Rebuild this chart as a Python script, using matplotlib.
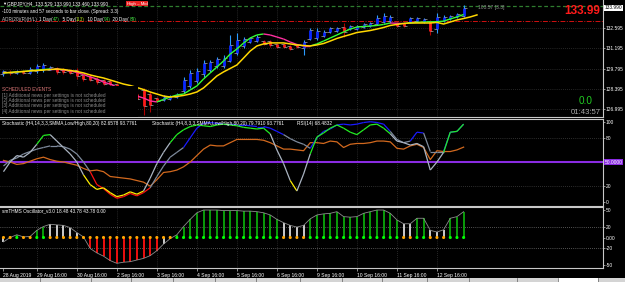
import numpy as np
import matplotlib.pyplot as plt
import matplotlib.transforms as mtransforms
from matplotlib.collections import LineCollection
from matplotlib.patches import Rectangle

plt.rcParams['font.family'] = ['Liberation Sans', 'DejaVu Sans']

# ---- values (GBPJPY H4, 70 bars) ----
bar_open = [129.40, 129.58, 129.46, 129.62, 129.50, 129.60, 129.70, 129.72, 129.82, 129.70,
            129.65, 129.70, 129.35, 129.30, 129.10, 129.00, 128.90, 128.70, 128.50, 128.20,
            128.05, 128.30, 128.00, 127.75, 127.62, 127.68, 127.85, 128.25, 128.60, 128.95,
            129.40, 129.70, 129.95, 130.00, 130.30, 130.90, 131.35, 131.63, 131.70, 131.70,
            131.70, 131.50, 131.48, 131.38, 131.40, 131.20, 131.85, 131.90, 132.05, 132.33,
            132.40, 132.70, 132.55, 132.55, 132.65, 132.75, 132.90, 133.05, 133.10, 132.98,
            132.95, 133.00, 133.08, 133.02, 133.10, 132.50, 133.10, 133.22, 133.35, 133.45]
bar_close = [129.60, 129.46, 129.62, 129.50, 129.78, 129.95, 130.05, 129.88, 129.55, 129.52,
             129.48, 129.25, 129.10, 129.00, 128.85, 128.75, 128.70, 128.50, 128.20, 127.90,
             127.70, 127.20, 127.30, 127.55, 127.82, 127.90, 128.00, 129.00, 129.50, 129.65,
             130.20, 130.25, 130.45, 130.55, 131.40, 131.80, 131.85, 131.90, 132.00, 131.50,
             131.40, 131.30, 131.28, 131.15, 131.26, 131.60, 132.45, 132.40, 132.35, 132.60,
             132.60, 132.35, 132.75, 132.75, 132.90, 132.95, 133.30, 133.45, 133.40, 132.75,
             132.72, 133.30, 133.30, 133.25, 132.40, 133.40, 133.40, 133.45, 133.60, 133.99]
bar_high = [129.72, 129.66, 129.70, 129.68, 129.90, 130.10, 130.20, 129.95, 129.90, 129.80,
            129.75, 129.80, 129.45, 129.40, 129.20, 129.05, 129.00, 128.80, 128.60, 128.30,
            128.20, 128.45, 128.20, 127.85, 127.95, 127.98, 128.10, 129.21, 129.69, 129.83,
            130.39, 130.39, 130.59, 130.73, 132.12, 132.26, 131.98, 131.98, 132.12, 131.77,
            131.77, 131.56, 131.56, 131.43, 131.43, 131.77, 132.60, 132.60, 132.47, 132.67,
            132.67, 132.95, 132.81, 132.81, 132.95, 133.02, 133.50, 133.64, 133.50, 133.02,
            133.02, 133.37, 133.37, 133.30, 133.16, 133.64, 133.50, 133.50, 133.64, 134.20]
bar_low = [129.30, 129.38, 129.40, 129.42, 129.45, 129.50, 129.55, 129.66, 129.45, 129.45,
           129.40, 129.10, 128.95, 128.90, 128.70, 128.65, 128.60, 128.40, 128.10, 127.80,
           127.60, 126.60, 126.80, 127.45, 127.55, 127.60, 127.75, 128.10, 128.45, 128.79,
           129.21, 129.55, 129.83, 129.83, 130.25, 130.73, 131.22, 131.56, 131.63, 131.43,
           131.29, 131.22, 131.22, 131.08, 131.22, 130.73, 131.77, 131.77, 131.98, 132.26,
           132.33, 131.98, 132.47, 132.47, 132.60, 132.67, 132.81, 132.95, 132.95, 132.67,
           132.67, 132.95, 133.02, 132.95, 132.12, 132.26, 133.02, 133.16, 133.30, 133.37]
ma_fast = [129.49, 129.52, 129.56, 129.59, 129.63, 129.69, 129.73, 129.76, 129.76, 129.69,
           129.63, 129.52, 129.38, 129.21, 129.07, 128.85, 128.72, 128.51, 128.31, 128.10,
           127.89, 127.75, 127.55, 127.48, 127.65, 127.82, 127.96, 128.03, 128.31, 128.59,
           129.07, 129.49, 129.90, 130.32, 130.80, 131.15, 131.56, 131.91, 132.12, 132.19,
           132.12, 131.98, 131.84, 131.63, 131.46, 131.36, 131.36, 131.50, 131.70, 131.91,
           132.12, 132.33, 132.53, 132.67, 132.71, 132.74, 132.78, 132.85, 132.95, 132.93,
           132.91, 132.95, 133.00, 133.02, 133.03, 133.04, 133.08, 133.23, 133.37, 133.54]
# slow MA is drawn shifted two bars forward, so it has two extra points
ma_slow = [129.49, 129.52, 129.56, 129.59, 129.63, 129.66, 129.69, 129.73, 129.76, 129.73,
           129.66, 129.59, 129.49, 129.35, 129.24, 129.14, 129.00, 128.86, 128.72, 128.62,
           128.48, 128.34, 128.17, 128.03, 127.89, 127.82, 127.86, 127.93, 128.03, 128.17,
           128.45, 128.86, 129.28, 129.56, 129.80, 130.04, 130.52, 131.01, 131.36, 131.50,
           131.57, 131.57, 131.57, 131.50, 131.43, 131.39, 131.36, 131.43, 131.53, 131.70,
           131.88, 132.02, 132.15, 132.29, 132.36, 132.43, 132.53, 132.64, 132.78, 132.85,
           132.92, 132.95, 132.95, 132.95, 132.95, 132.99, 132.88, 133.02, 133.16, 133.26,
           133.37, 133.51]
stoch_a = [38, 50, 58, 56, 62, 72, 83, 84, 76, 68,
           60, 50, 34, 22, 16, 18, 12, 7, 9, 13,
           10, 14, 30, 48, 62, 74, 84, 90, 94, 96,
           95, 94, 96, 97, 96, 95, 93, 92, 91, 92,
           85, 65, 48, 27, 14, 35, 60, 81, 86, 92,
           96, 92, 87, 84, 90, 96, 97, 92, 85, 76,
           74, 71, 73, 69, 40, 50, 62, 87, 88, 97]
stoch_b = [45, 52, 55, 60, 63, 66, 68, 70, 70, 69,
           66, 60, 50, 38, 22, 17, 10, 5, 7, 11,
           8, 12, 18, 32, 45, 56, 62, 68, 80, 92,
           98, 99, 98, 97, 97, 96, 96, 95, 94, 94,
           92, 88, 84, 79, 75, 72, 67, 80, 88, 91,
           96, 97, 96, 97, 99, 100, 99, 97, 88, 78,
           74, 76, 87, 86, 63, 63, 63, 87, 88, 97]
rsi = [52, 50, 47, 48, 51, 54, 56, 53, 51, 50,
       48, 46, 42, 39, 40, 38, 32, 31, 30, 29,
       27, 25, 20, 28, 37, 38, 40, 44, 50, 58,
       66, 71, 70, 70, 74, 78, 78, 78, 78, 77,
       74, 70, 66, 66, 65, 64, 74, 74, 73, 76,
       75, 68, 72, 73, 73, 74, 76, 76, 75, 67,
       66, 70, 72, 68, 53, 64, 63, 63, 65, 68.48]
osc = [-8, 0, 5, 1, 2, 13, 20, 24, 23, 22,
       18, 9, 1, -20, -28, -34, -42, -47, -45, -44,
       -41, -38, -33, -24, -12, -2, 5, 20, 33, 45,
       50, 50, 50, 49, 49, 49, 48, 48, 47, 45,
       41, 33, 27, 22, 19, 22, 34, 41, 43, 44,
       47, 38, 37, 38, 44, 47, 50, 50, 44, 32,
       25, 25, 35, 35, 13, 10, 14, 35, 38, 47]

time_ticks = [0, 5, 11, 17, 23, 29, 35, 41, 47, 53, 59, 65]
time_labels = ['28 Aug 2019', '29 Aug 16:00', '30 Aug 16:00', '2 Sep 16:00', '3 Sep 16:00',
               '4 Sep 16:00', '5 Sep 16:00', '6 Sep 16:00', '9 Sep 16:00', '10 Sep 16:00',
               '11 Sep 16:00', '12 Sep 16:00']
price_ticks = [126.995, 128.395, 129.795, 131.195, 132.595]
last_price = 133.990
red_level = 133.11
green_level = 134.16
stoch_ticks = [0, 20, 80, 100]
osc_ticks = [-50, -20, 0, 20, 50]
osc_tick_labels = ['-50', '-20', '0.00', '20', '50']
news = ['[1] Additional news per settings is not scheduled',
        '[2] Additional news per settings is not scheduled',
        '[3] Additional news per settings is not scheduled',
        '[4] Additional news per settings is not scheduled']

W, H = 625, 282
GRID = '#4a4a4a'
DOT = (0, (1, 2))
AX_FS = 3.5

fig = plt.figure(figsize=(W / 100, H / 100), dpi=100, facecolor='black')


def panel(top, bottom):
    ax = fig.add_axes([0, 1 - bottom / H, 603 / W, (bottom - top) / H])
    ax.set_facecolor('black')
    for s in ax.spines.values():
        s.set_color('#c8c8c8')
        s.set_linewidth(0.8)
    ax.spines['left'].set_visible(False)
    ax.yaxis.tick_right()
    ax.tick_params(axis='y', colors='#c8c8c8', labelcolor='white', length=1.5,
                   width=0.5, pad=0.6, labelsize=AX_FS)
    ax.set_xlim(-0.52, 89.9)
    ax.set_xticks([])
    for t in time_ticks[1:]:
        ax.axvline(t, color=GRID, lw=0.5, ls=DOT, zorder=0)
    return ax


def ftext(x, y, s, **kw):
    kw.setdefault('va', 'center')
    return fig.text(x / W, 1 - y / H, s, **kw)


def seg_lines(ax, vals, colors, lw, z):
    xs = np.arange(len(vals))
    pts = np.column_stack([xs, vals])
    segs = np.stack([pts[:-1], pts[1:]], axis=1)
    ax.add_collection(LineCollection(segs, colors=colors, lw=lw, zorder=z))


# ---------------- price panel ----------------
ax_p = panel(0, 117)
ax_p.spines['top'].set_visible(False)
ax_p.set_ylim(126.436, 134.544)
ax_p.set_yticks(price_ticks, [f'{p:.3f}' for p in price_ticks])
for p in price_ticks:
    ax_p.axhline(p, color=GRID, lw=0.5, ls=DOT, zorder=0)
ax_p.axhline(green_level, color='#2f7d2f', lw=0.9, ls=(0, (3, 2)), zorder=1)
ax_p.axhline(red_level, color='#d01010', lw=0.7, ls=(0, (5, 1.5, 1, 1.5)), zorder=1)

x = np.arange(len(bar_open))
up = np.array(bar_close) >= np.array(bar_open)
ax_p.vlines(x, bar_low, bar_high, colors=np.where(up, '#2a9bff', '#b00000'), lw=0.8, zorder=3)
ax_p.vlines(x, bar_open, bar_close, colors=np.where(up, '#0a28ff', '#ff1a1a'), lw=2.0, zorder=3)
ax_p.hlines(bar_open, x - 0.45, x, color='#a8a8a8', lw=0.5, zorder=3)
ax_p.hlines(bar_close, x, x + 0.45, color='#a8a8a8', lw=0.5, zorder=3)

fast_cols = ['#33ff33' if b > a else '#ff2fa0' for a, b in zip(ma_fast[:-1], ma_fast[1:])]
seg_lines(ax_p, ma_fast, fast_cols, 1.0, 4)
ax_p.plot(np.arange(len(ma_slow)), ma_slow, color='#ffd700', lw=1.1, zorder=4)

tr_p = mtransforms.blended_transform_factory(ax_p.transAxes, ax_p.transData)
ax_p.text(1.003, last_price, f'{last_price:.3f}', transform=tr_p, fontsize=AX_FS,
          color='black', va='center', ha='left', clip_on=False,
          bbox=dict(boxstyle='square,pad=0.15', fc='white', ec='none'))

# black box behind the news list
ax_p.add_patch(Rectangle((0, 0), 138 / 603, 31 / 117, transform=ax_p.transAxes,
                         fc='black', ec='none', zorder=6))

# ---------------- stochastic panel ----------------
ax_s = panel(118.5, 205.5)
ax_s.set_ylim(-4, 104)
ax_s.set_yticks(stoch_ticks)
for v in (80, 20):
    ax_s.axhline(v, color='#5a5a5a', lw=0.5, ls=DOT, zorder=0)
ax_s.axhline(50, color='#8a2be2', lw=1.5, zorder=1)
ax_s.plot(x, rsi, color='#d2691e', lw=0.9, zorder=2)
seg_lines(ax_s, stoch_b, ['#1a1aff' if v >= 80 else '#ff1010' if v <= 22 else '#7e8a9c'
                          for v in stoch_b[1:]], 0.9, 3)
seg_lines(ax_s, stoch_a, ['#22ee22' if v >= 80 else '#ffee00' if v <= 22 else '#aab4c2'
                          for v in stoch_a[1:]], 0.9, 4)
tr_s = mtransforms.blended_transform_factory(ax_s.transAxes, ax_s.transData)
ax_s.text(1.003, 50, '50.0000', transform=tr_s, fontsize=AX_FS, color='white',
          va='center', ha='left', clip_on=False,
          bbox=dict(boxstyle='square,pad=0.15', fc='#8a2be2', ec='none'))

# ---------------- oscillator panel ----------------
ax_o = panel(207, 268)
ax_o.set_ylim(-55.5, 55.5)
ax_o.set_yticks(osc_ticks, osc_tick_labels)
for v in (20, -20):
    ax_o.axhline(v, color='#a0a0a0', lw=0.5, ls=DOT, zorder=0)

osc_cols = []
prev = None
for v in osc:
    rising = prev is not None and v > prev + 4
    falling = prev is not None and v < prev
    if v > 0:
        osc_cols.append('#0aa80a' if (v >= 28 or rising) else '#dcdcdc')
    else:
        osc_cols.append('#ff1010' if (v <= -15 or falling) else '#dcdcdc')
    prev = v
ax_o.vlines(x, 0, osc, colors=osc_cols, lw=1.3, zorder=2)
ax_o.plot(x, osc, color='#8c8c8c', lw=0.6, zorder=3)
dot_cols = ['#00ff00' if c == '#0aa80a' else '#ffa500' for c in osc_cols]
ax_o.scatter(x, np.zeros(len(x)), c=dot_cols, s=5, lw=0, zorder=4)

ax_o.set_xticks(time_ticks, time_labels)
ax_o.tick_params(axis='x', colors='#c8c8c8', labelcolor='white', length=2,
                 width=0.5, pad=1.5, labelsize=3.6)
for lbl in ax_o.get_xticklabels():
    lbl.set_ha('left')

# ---------------- texts ----------------
ftext(2, 3.5, '\u25bc', color='white', fontsize=3.0)
ftext(7, 3.5, 'GBPJPY,H4  133.529 133.990 133.460 133.990', color='white', fontsize=3.4)
ftext(127, 3.8, 'High \u2013 Mid', color='white', fontsize=3.2,
      bbox=dict(boxstyle='square,pad=0.15', fc='#e82020', ec='none'))
ftext(2, 11.5, '-103 minutes and 57 seconds to bar close. (Spread: 3.3)',
      color='white', fontsize=3.3)

t = ftext(2, 20, 'ADR(20)(R)(H/L)  ', color='#c8c8c8', fontsize=3.3)
for s, c in [('1 Day(', 'white'), ('47)', '#44dd44'), ('  5 Day(', 'white'), ('113)', '#aadd22'),
             ('  10 Day(', 'white'), ('94)', '#44dd44'), ('  20 Day(', 'white'), ('89)', '#44dd44')]:
    t = ax_p.annotate(s, xy=(1, 0.5), xycoords=t, va='center', ha='left',
                      color=c, fontsize=3.3, annotation_clip=False)

ftext(478, 7.5, '103:57 [3.3]', color='#8c8c8c', fontsize=3.6)
ftext(600, 11.5, '133.99', color='#ff1a1a', fontsize=8.5, fontweight='bold', ha='right')
ftext(593, 101, '0.0', color='#22cc22', fontsize=7.2, ha='right')
ftext(601, 112.5, '01:43:57', color='#a8a8a8', fontsize=5.6, ha='right')

ftext(2, 89.5, 'SCHEDULED EVENTS', color='#e07a7a', fontsize=3.4)
for k, s in enumerate(news):
    ftext(2, 95 + 5.5 * k, s, color='#8c8c8c', fontsize=3.4)

ftext(2, 123, 'Stochastic (H4,14,3,3,SMMA,Low/High,80,20) 82.6578 93.7761',
      color='white', fontsize=3.4)
ftext(152, 123, 'Stochastic (H4,8,3,3,SMMA,Low/High,80,20) 79.7910 93.7761',
      color='white', fontsize=3.4)
ftext(297, 123, 'RSI(14) 68.4832', color='white', fontsize=3.4)
ftext(2, 211, 'smTHMS Oscillator_v3.0 18.48 43.78 43.78 0.00', color='white', fontsize=3.4)

# tab strip at the very bottom
fig.add_artist(Rectangle((0, 0), 1, 4 / H, transform=fig.transFigure,
                         fc='#d4d4d4', ec='none'))
fig.add_artist(Rectangle((558 / W, 0), 40 / W, 4 / H, transform=fig.transFigure,
                         fc='white', ec='none'))
for sx in [40, 91, 131, 173, 215, 256, 300, 342, 382, 427, 469, 517, 558, 598]:
    fig.add_artist(plt.Line2D([sx / W, sx / W], [0, 4 / H], transform=fig.transFigure,
                              color='#606060', lw=0.5))

fig.savefig('out.png', dpi=100, facecolor='black')
